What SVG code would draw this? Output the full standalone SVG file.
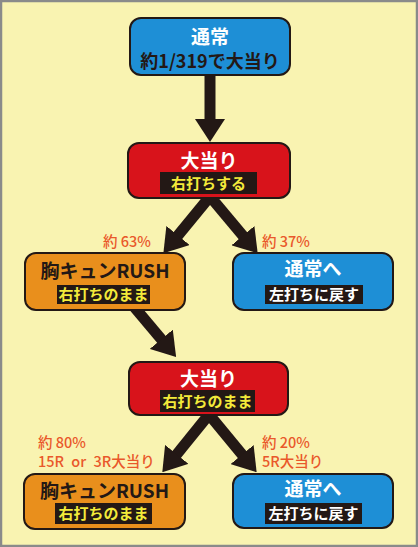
<svg xmlns="http://www.w3.org/2000/svg" width="418" height="547" viewBox="0 0 418 547">
<style>
.bg{fill:#f9f3b1;stroke:#8a8a8a;stroke-width:2.5}
.box{stroke:#231815;stroke-width:2}
.blue{fill:#1e8fd6}
.red{fill:#d8131b}
.orange{fill:#e98f1c}
.tag{fill:#231815}
text{font-family:"Noto Sans CJK JP","Noto Sans",sans-serif;font-weight:bold;text-anchor:middle}
.t{font-size:19px}
.w{fill:#ffffff}
.k{fill:#231815}
.s{font-size:15px}
.y{fill:#f3ea3a}
.p{font-size:14.5px;fill:#e9582a;text-anchor:start;font-weight:500}
.con{stroke:#231815;stroke-width:11;fill:none;marker-end:url(#ah)}
</style>
<defs>
<marker id="ah" markerUnits="userSpaceOnUse" markerWidth="23" markerHeight="30" refX="2" refY="15" orient="auto">
<path d="M0,0 L23,15 L0,30 z" fill="#231815"/>
</marker>
</defs>
<rect class="bg" x="1" y="1" width="416" height="545"/>
<g id="connectors">
<line class="con" x1="210" y1="74" x2="210" y2="121"/>
<line class="con" x1="212" y1="194" x2="176.7" y2="237.0"/>
<line class="con" x1="208" y1="194" x2="244.2" y2="237.2"/>
<line class="con" x1="130" y1="302" x2="162.6" y2="340.8"/>
<line class="con" x1="211" y1="412" x2="175.5" y2="455.9"/>
<line class="con" x1="207" y1="412" x2="243.3" y2="456.1"/>
</g>
<g id="n1">
<rect class="box blue" x="130" y="18" width="160" height="57" rx="11"/>
<text class="t w" x="210" y="44">通常</text>
<text class="k" x="210" y="68" style="font-size:18px">約1/319で大当り</text>
</g>
<g id="n2">
<rect class="box red" x="128" y="143" width="162" height="55" rx="11"/>
<text class="t w" x="209" y="168">大当り</text>
<rect class="tag" x="160" y="172" width="97" height="22"/>
<text class="s y" x="208.5" y="189">右打ちする</text>
</g>
<g id="n3">
<rect class="box orange" x="25" y="253" width="160" height="57" rx="11"/>
<text class="t k" x="105" y="278">胸キュンRUSH</text>
<rect class="tag" x="57" y="285" width="93" height="19"/>
<text class="s y" x="103.5" y="300">右打ちのまま</text>
</g>
<g id="n4">
<rect class="box blue" x="233" y="253" width="160" height="57" rx="11"/>
<text class="t w" x="313" y="276">通常へ</text>
<rect class="tag" x="265" y="285" width="98" height="19"/>
<text class="s w" x="314" y="300">左打ちに戻す</text>
</g>
<g id="n5">
<rect class="box red" x="129" y="362" width="159" height="53" rx="11"/>
<text class="t w" x="208.5" y="386">大当り</text>
<rect class="tag" x="160" y="390" width="95" height="22"/>
<text class="s y" x="207.5" y="407">右打ちのまま</text>
</g>
<g id="n6">
<rect class="box orange" x="24" y="474" width="161" height="55" rx="11"/>
<text class="t k" x="104.5" y="498">胸キュンRUSH</text>
<rect class="tag" x="55" y="503" width="97" height="21"/>
<text class="s y" x="103.5" y="519">右打ちのまま</text>
</g>
<g id="n7">
<rect class="box blue" x="233" y="474" width="160" height="54" rx="11"/>
<text class="t w" x="313" y="496">通常へ</text>
<rect class="tag" x="265" y="503" width="97" height="21"/>
<text class="s w" x="313.5" y="519">左打ちに戻す</text>
</g>
<g id="labels">
<text class="p" x="103" y="247">約 63%</text>
<text class="p" x="262" y="247">約 37%</text>
<text class="p" x="38" y="448">約 80%</text>
<text class="p" x="38" y="467" style="word-spacing:4px">15R or 3R大当り</text>
<text class="p" x="262" y="448">約 20%</text>
<text class="p" x="262" y="467">5R大当り</text>
</g>
</svg>
